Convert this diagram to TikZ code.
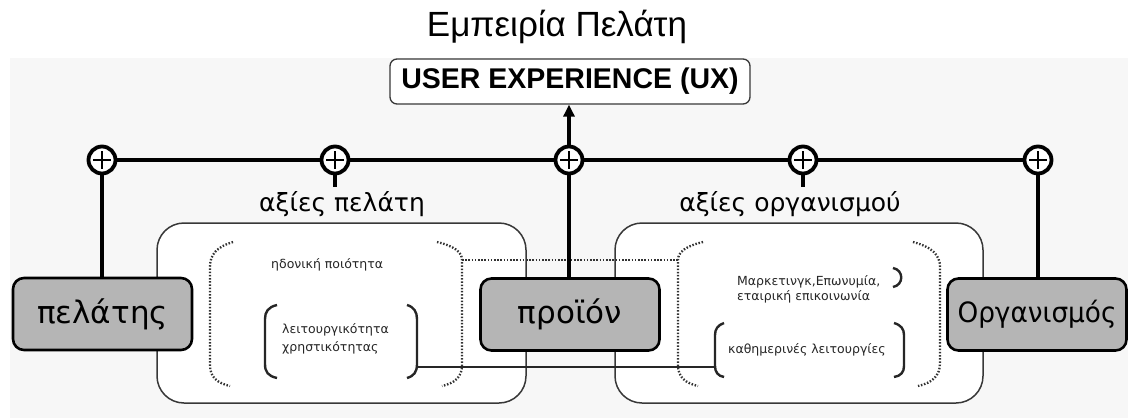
\documentclass[tikz,border=0pt]{standalone}
\usepackage{fontspec}
\setmainfont{DejaVu Sans}
\newfontfamily\titlefont{Liberation Sans}
\usetikzlibrary{arrows.meta,calc}
\definecolor{panel}{HTML}{F7F7F7}
\definecolor{boxgrey}{HTML}{B5B5B5}
\definecolor{frame}{HTML}{383838}
\begin{document}
\begin{tikzpicture}[x=1pt,y=-1pt,
  plusnode/.style={circle,draw=black,line width=3.8pt,fill=white,minimum size=27pt,inner sep=0pt,
    path picture={\draw[line width=2.4pt] ($(path picture bounding box.center)+(-9,0)$) -- ++(18,0);
                  \draw[line width=2.4pt] ($(path picture bounding box.center)+(0,-9)$) -- ++(0,18);}},
  actor/.style={rectangle,rounded corners=11pt,draw=black,line width=2.6pt,fill=boxgrey,
    minimum width=179pt,minimum height=72pt,inner sep=0pt,font=\fontsize{31}{36}\selectfont},
  group/.style={draw=frame,line width=1.5pt,fill=white,rounded corners=27pt},
  bus/.style={line width=3.5pt,draw=black},
  dotline/.style={line width=2.3pt,draw=black!80,dash pattern=on 1.5pt off 1.7pt},
  bracket/.style={line width=2.4pt,draw=black!85},
  small/.style={font=\fontsize{12.5}{15}\selectfont,inner sep=0pt,text=black!85},
  valuelabel/.style={font=\fontsize{25}{30}\selectfont,inner sep=0pt}
]
\useasboundingbox (0,0) rectangle (1128,418);
% background panel
\fill[panel] (10,58) rectangle (1128,418);

% title
\node[font=\titlefont\fontsize{35}{40}\selectfont,inner sep=0pt] (title) at (557,27) {Εμπειρία Πελάτη};

% UX box
\node[draw=frame,line width=1.3pt,fill=white,rounded corners=7pt,minimum width=360pt,minimum height=45pt,
  inner sep=0pt,font=\titlefont\bfseries\fontsize{28.5}{32}\selectfont] (ux) at (570,81.5) {USER EXPERIENCE (UX)};

% group boxes
\path[group] (157,223) rectangle (526,403);
\path[group] (615,223) rectangle (983,403);

% labels of groups
\node[valuelabel] (cvals) at (342,204) {αξίες πελάτη};
\node[valuelabel] (ovals) at (790,204) {αξίες οργανισμού};

% dotted brackets, left group
\coordinate (dl) at (462,260);
\coordinate (dr) at (678,260);
\draw[dotline] (233,242) .. controls (216,247) and (210,255) .. (210,267) -- (210,365) .. controls (210,377) and (217,383) .. (230,386);
\draw[dotline] (437,242) .. controls (454,246) and (462,252) .. (dl) -- (462,365) .. controls (462,377) and (455,383) .. (442,386);
% dotted brackets, right group
\draw[dotline] (703,242) .. controls (686,246) and (678,252) .. (dr) -- (678,365) .. controls (678,377) and (685,383) .. (698,386);
\draw[dotline] (913,242) .. controls (932,247) and (940,255) .. (940,267) -- (940,363) .. controls (940,376) and (932,383) .. (918,386);
\draw[dotline] (dl) -- (dr);

% solid brackets
\coordinate (sl) at (417,367);
\coordinate (sr) at (715,367);
\draw[bracket] (277,305) .. controls (268,307) and (265,312) .. (265,319) -- (265,364) .. controls (265,372) and (268,376) .. (277,378);
\draw[bracket] (407,305) .. controls (414,307) and (417,312) .. (417,319) -- (417,364) .. controls (417,372) and (414,376) .. (407,378);
\draw[bracket] (724,323) .. controls (718,325) and (715,329) .. (715,335) -- (715,366) .. controls (715,372) and (718,376) .. (724,377);
\draw[bracket] (894,323) .. controls (901,325) and (904,329) .. (904,335) -- (904,366) .. controls (904,372) and (901,376) .. (894,377);
\draw[bracket] (893,268) .. controls (904,270) and (904,285) .. (893,287);
\draw[line width=1.8pt,draw=black!85] (sl) -- (sr);

% small texts
\node[small,anchor=west] (hedon) at (271,265) {ηδονική ποιότητα};
\node[small,anchor=west] (func1) at (282,330) {λειτουργικότητα};
\node[small,anchor=west] (func2) at (282,348) {χρηστικότητας};
\node[small,anchor=west] (mark1) at (737,282) {Μαρκετινγκ,Επωνυμία,};
\node[small,anchor=west] (mark2) at (737,297) {εταιρική επικοινωνία};
\node[small,anchor=west] (daily) at (728,350) {καθημερινές λειτουργίες};

% actor boxes
\node[actor] (cust) at (102.5,314) {πελάτης};
\node[actor] (prod) at (570,314.5) {προϊόν};
\node[actor,font=\fontsize{28}{32}\selectfont] (org) at (1037,314.5) {\scalebox{0.94}[1]{Οργανισμός}};

% plus nodes
\node[plusnode] (p1) at (102,160) {};
\node[plusnode] (p2) at (335,160) {};
\node[plusnode] (p3) at (569,160) {};
\node[plusnode] (p4) at (803,160) {};
\node[plusnode] (p5) at (1038,160) {};
\coordinate (s2) at (335,187);
\coordinate (s4) at (803,187);

% connectors
\draw[bus] (p1) -- (p2);
\draw[bus] (p2) -- (p3);
\draw[bus] (p3) -- (p4);
\draw[bus] (p4) -- (p5);
\draw[bus] (p1) -- (p1 |- cust.north);
\draw[bus] (p3) -- (p3 |- prod.north);
\draw[bus] (p5) -- (p5 |- org.north);
\draw[bus] (p2) -- (s2);
\draw[bus] (p4) -- (s4);
\draw[bus,-{Triangle[length=12pt,width=11pt]}] (p3) -- (p3 |- ux.south);
\end{tikzpicture}
\end{document}
